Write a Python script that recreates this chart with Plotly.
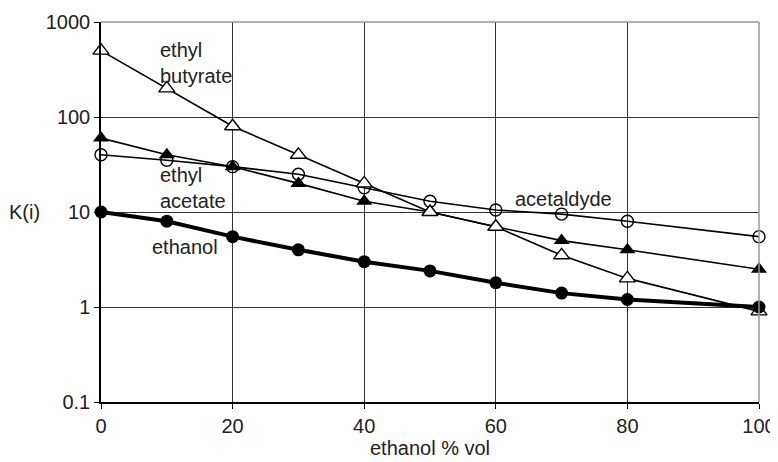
import plotly.graph_objects as go

x_vals = [0, 10, 20, 30, 40, 50, 60, 70, 80, 100]
ethyl_butyrate = [500, 200, 80, 40, 20, 10, 7, 3.5, 2, 0.9]
ethyl_acetate = [60, 40, 30, 20, 13, 10, 7, 5, 4, 2.5]
acetaldyde = [40, 35, 30, 25, 18, 13, 10.5, 9.5, 8, 5.5]
ethanol = [10, 8, 5.5, 4, 3, 2.4, 1.8, 1.4, 1.2, 1.0]

y_ticks = [0.1, 1, 10, 100, 1000]
y_ticktext = ["0.1", "1", "10", "100", "1000"]
x_ticks = [0, 20, 40, 60, 80, 100]

FONT = "Liberation Sans, Arial, sans-serif"
TXT = "#222"

fig = go.Figure()
fig.add_trace(go.Scatter(x=x_vals, y=acetaldyde, mode="lines+markers",
    line=dict(color="black", width=1.6),
    marker=dict(symbol="circle-open", size=12, color="black", line=dict(width=1.4)),
    cliponaxis=False))
fig.add_trace(go.Scatter(x=x_vals, y=ethyl_acetate, mode="lines+markers",
    line=dict(color="black", width=1.6),
    marker=dict(symbol="triangle-up", size=14, color="black"),
    cliponaxis=False))
fig.add_trace(go.Scatter(x=x_vals, y=ethyl_butyrate, mode="lines+markers",
    line=dict(color="black", width=1.6),
    marker=dict(symbol="triangle-up", size=14, color="white", line=dict(color="black", width=1.4)),
    cliponaxis=False))
fig.add_trace(go.Scatter(x=x_vals, y=ethanol, mode="lines+markers",
    line=dict(color="black", width=4),
    marker=dict(symbol="circle", size=13, color="black"),
    cliponaxis=False))

ann_font = dict(family=FONT, size=20, color=TXT)
fig.add_annotation(x=8.6, y=2.57, xref="x", yref="y", text="ethyl<br>butyrate",
                   showarrow=False, xanchor="left", align="left", font=ann_font)
fig.add_annotation(x=8.6, y=1.253, xref="x", yref="y", text="ethyl<br>acetate",
                   showarrow=False, xanchor="left", align="left", font=ann_font)
fig.add_annotation(x=70.3, y=1.137, xref="x", yref="y", text="acetaldyde",
                   showarrow=False, xanchor="center", font=ann_font)
fig.add_annotation(x=7.4, y=0.632, xref="x", yref="y", text="ethanol",
                   showarrow=False, xanchor="left", font=ann_font)
fig.add_annotation(x=0.0, y=1.0, xref="paper", yref="y", text="K(i)",
                   showarrow=False, xanchor="right", xshift=-59, font=ann_font)

# page body has an 8px default margin; figure sized/margined to compensate
fig.update_layout(
    width=770, height=454,
    margin=dict(l=93, r=19, t=14, b=60),
    paper_bgcolor="white", plot_bgcolor="white",
    showlegend=False,
    font=dict(family=FONT, size=20, color=TXT),
    xaxis=dict(range=[0, 100], tickvals=x_ticks, showgrid=True, gridcolor="#333",
               gridwidth=1.2, showline=True, linecolor="black", linewidth=1.5,
               ticks="outside", ticklen=5, tickcolor="black", zeroline=False,
               ticklabeloverflow="allow",
               title=dict(text="ethanol % vol", font=dict(size=20), standoff=4),
               automargin=False),
    yaxis=dict(type="log", range=[-1, 3], tickvals=y_ticks, ticktext=y_ticktext,
               showgrid=True, gridcolor="#333", gridwidth=1.2, showline=True,
               linecolor="black", linewidth=1.5, ticks="outside", ticklen=5,
               tickcolor="black", zeroline=False, automargin=False),
)
fig.add_shape(type="line", xref="paper", yref="paper", x0=0, x1=1, y0=1, y1=1,
              line=dict(color="#999", width=1.5))
fig.add_shape(type="line", xref="paper", yref="paper", x0=1, x1=1, y0=0, y1=1,
              line=dict(color="#999", width=1.5))

fig.write_html("out.html")
